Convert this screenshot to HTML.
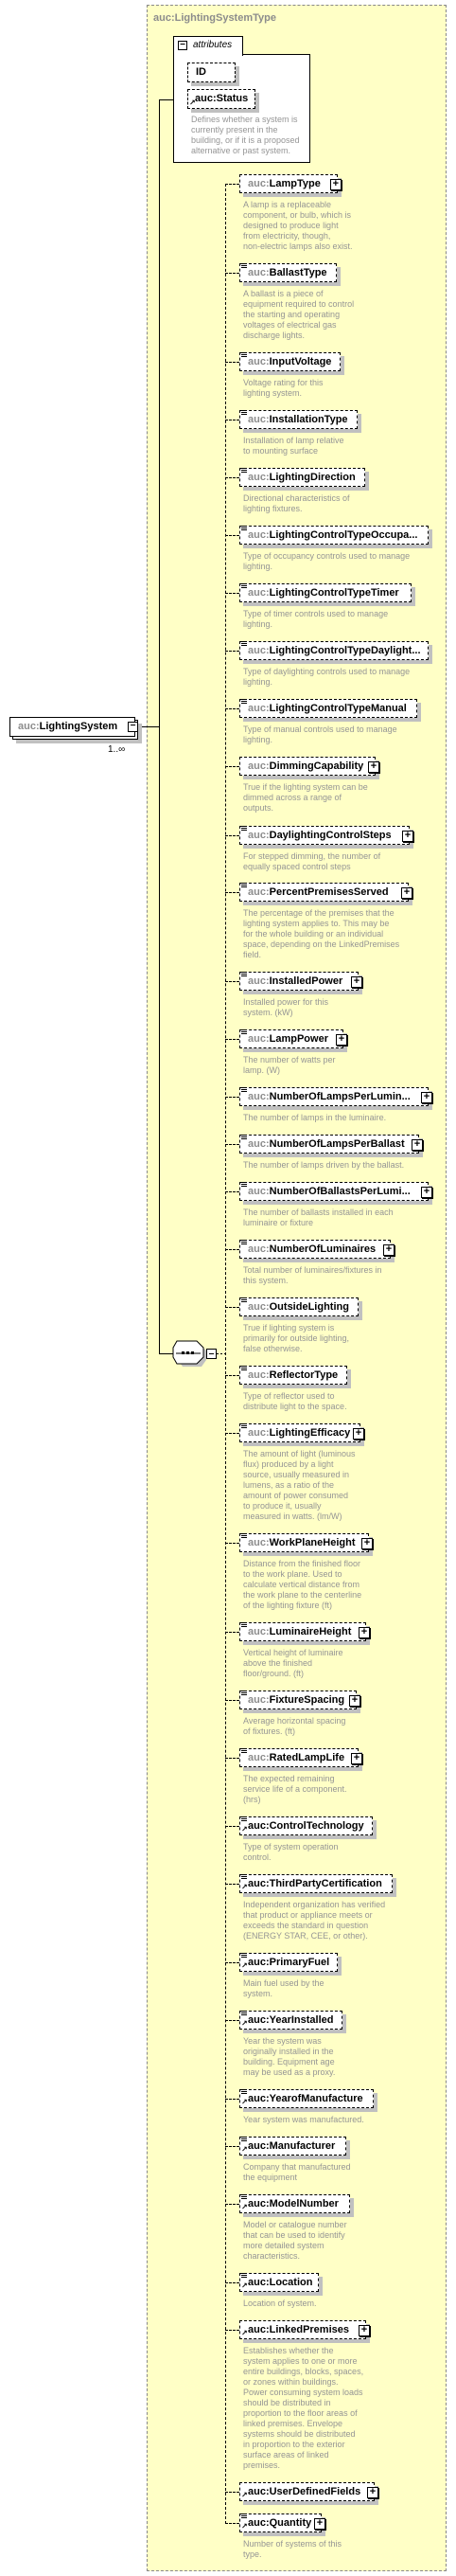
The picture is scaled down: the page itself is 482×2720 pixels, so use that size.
<!DOCTYPE html>
<html><head><meta charset="utf-8">
<style>
*{margin:0;padding:0;box-sizing:border-box}
body{width:482px;height:2720px;background:#fff;position:relative;overflow:hidden;font-family:"Liberation Sans",sans-serif}
.a{position:absolute}
#ct{left:155px;top:5px;width:317px;height:2710px;border:1px dashed #888;border-width:1px;background:#ffffc6;border-style:dashed}
.title{left:162px;top:12px;font:bold 11px/14px "Liberation Sans",sans-serif;color:#8c8c8c}
.e{position:absolute;left:253px;height:20px;border:1px dashed #000;background:#fff;box-shadow:4px 4px 0 #c0c0c0;padding:0 9px 0 8px;font:bold 11px/18px "Liberation Sans",sans-serif;white-space:nowrap;color:#000;z-index:2}
.e b{color:#8c8c8c}
.e.pl{padding-right:17px}
.e.pl:after{content:"+";position:absolute;right:-5px;top:4px;width:10px;height:10px;border:1px solid #000;background:#fff;box-shadow:1px 1px 0 #000;font:bold 11px/8px "Liberation Sans",sans-serif;text-align:center;color:#000}
.e .s{position:absolute;left:1px;top:-1px;width:6px;height:5px;border-top:1px solid #000;border-bottom:1px solid #000}
.e .s:after{content:"";position:absolute;left:0;top:1px;width:6px;height:1px;background:#000}
.e .r{position:absolute;left:1px;bottom:1px;font:bold 8px/8px "DejaVu Sans",sans-serif;color:#000}
.d{position:absolute;left:257px;font:9px/11px "Liberation Sans",sans-serif;color:#959595;white-space:nowrap}
.h{position:absolute;left:238px;width:15px;height:0;border-top:1px dashed #000}
</style></head><body>
<div class="a" id="ct"></div>
<div class="a title">auc:LightingSystemType</div>

<!-- attributes -->
<div class="a" style="left:183px;top:57px;width:145px;height:115px;border:1px solid #000;background:#fff"></div>
<div class="a" style="left:183px;top:38px;width:74px;height:21px;border:1px solid #000;border-bottom:none;background:#fff;font:italic 10px/18px 'Liberation Sans',sans-serif;padding-left:20px">attributes</div>
<div class="a" style="left:188px;top:43px;width:10px;height:10px;border:1px solid #000;background:#fff;font:bold 10px/7px 'Liberation Sans';text-align:center">−</div>
<div class="a" style="left:198px;top:66px;width:51px;height:21px;border:1px dashed #000;background:#fff;box-shadow:4px 4px 0 #c0c0c0;font:bold 11px/19px 'Liberation Sans';padding-left:8px">ID</div>
<div class="a" style="left:198px;top:94px;width:72px;height:21px;border:1px dashed #000;background:#fff;box-shadow:4px 4px 0 #c0c0c0;font:bold 11px/19px 'Liberation Sans';padding-left:7px">auc:Status<span style="position:absolute;left:1px;bottom:1px;font:bold 8px/8px 'DejaVu Sans'">↗</span></div>
<div class="d" style="left:202px;top:121px">Defines whether a system is<br>currently present in the<br>building, or if it is a proposed<br>alternative or past system.</div>

<!-- main lines -->
<div class="a" style="left:168px;top:105px;width:1px;height:1325px;background:#000"></div>
<div class="a" style="left:168px;top:105px;width:15px;height:1px;background:#000"></div>
<div class="a" style="left:168px;top:1429px;width:15px;height:1px;background:#000"></div>
<div class="a" style="left:238px;top:194px;width:0;height:2471px;border-left:1px dashed #000"></div>
<div class="a" style="left:146px;top:767px;width:22px;height:1px;background:#000"></div>

<!-- root element -->
<div class="a" style="left:13px;top:760px;width:133px;height:21px;border:1px solid #000;background:#fff;box-shadow:4px 4px 0 #c0c0c0"></div>
<div class="a" style="left:10px;top:757px;width:133px;height:21px;border:1px solid #000;background:#fff;font:bold 11px/19px 'Liberation Sans';padding-left:8px;white-space:nowrap"><b style="color:#8c8c8c">auc:</b>LightingSystem</div>
<div class="a" style="left:135px;top:762px;width:11px;height:11px;border:1px solid #000;background:#fff;font:bold 10px/8px 'Liberation Sans';text-align:center">−</div>
<div class="a" style="left:114px;top:786px;font:10px/11px 'Liberation Sans','DejaVu Sans';color:#000">1..∞</div>

<!-- sequence -->
<svg class="a" style="left:180px;top:1415px" width="60" height="32">
<polygon points="10,4 30,4 38,11 38,21 33,28 13,28 8,21 8,11" fill="#c0c0c0"/>
<polygon points="7,1 28,1 35,8 35,18 28,25 7,25 3,18 3,8" fill="#fff" stroke="#000"/>
<line x1="6" y1="14" x2="32" y2="14" stroke="#000"/>
<rect x="12" y="12" width="3" height="3" fill="#000"/><rect x="17" y="12" width="3" height="3" fill="#000"/><rect x="22" y="12" width="3" height="3" fill="#000"/>
<rect x="38.5" y="9.5" width="10" height="10" fill="#fff" stroke="#000"/>
<line x1="41" y1="14.5" x2="46" y2="14.5" stroke="#000"/>
<line x1="49" y1="14.5" x2="58" y2="14.5" stroke="#000" stroke-dasharray="2,2"/>
</svg>

<!-- elements -->
<div class="h" style="top:194px"></div><div class="e pl" style="top:184px"><b>auc:</b>LampType</div>
<div class="d" style="top:211px">A lamp is a replaceable<br>component, or bulb, which is<br>designed to produce light<br>from electricity, though,<br>non-electric lamps also exist.</div>

<div class="h" style="top:288px"></div><div class="e" style="top:278px"><i class="s"></i><b>auc:</b>BallastType</div>
<div class="d" style="top:305px">A ballast is a piece of<br>equipment required to control<br>the starting and operating<br>voltages of electrical gas<br>discharge lights.</div>

<div class="h" style="top:382px"></div><div class="e" style="top:372px"><i class="s"></i><b>auc:</b>InputVoltage</div>
<div class="d" style="top:399px">Voltage rating for this<br>lighting system.</div>

<div class="h" style="top:443px"></div><div class="e" style="top:433px"><i class="s"></i><b>auc:</b>InstallationType</div>
<div class="d" style="top:460px">Installation of lamp relative<br>to mounting surface</div>

<div class="h" style="top:504px"></div><div class="e" style="top:494px"><i class="s"></i><b>auc:</b>LightingDirection</div>
<div class="d" style="top:521px">Directional characteristics of<br>lighting fixtures.</div>

<div class="h" style="top:565px"></div><div class="e" style="top:555px;width:200px"><i class="s"></i><b>auc:</b>LightingControlTypeOccupa...</div>
<div class="d" style="top:582px">Type of occupancy controls used to manage<br>lighting.</div>

<div class="h" style="top:626px"></div><div class="e" style="top:616px;width:182px"><i class="s"></i><b>auc:</b>LightingControlTypeTimer</div>
<div class="d" style="top:643px">Type of timer controls used to manage<br>lighting.</div>

<div class="h" style="top:687px"></div><div class="e" style="top:677px;width:200px"><i class="s"></i><b>auc:</b>LightingControlTypeDaylight...</div>
<div class="d" style="top:704px">Type of daylighting controls used to manage<br>lighting.</div>

<div class="h" style="top:748px"></div><div class="e" style="top:738px;width:188px"><i class="s"></i><b>auc:</b>LightingControlTypeManual</div>
<div class="d" style="top:765px">Type of manual controls used to manage<br>lighting.</div>

<div class="h" style="top:809px"></div><div class="e pl" style="top:799px;width:144px"><b>auc:</b>DimmingCapability</div>
<div class="d" style="top:826px">True if the lighting system can be<br>dimmed across a range of<br>outputs.</div>

<div class="h" style="top:882px"></div><div class="e pl" style="top:872px;width:180px"><i class="s"></i><b>auc:</b>DaylightingControlSteps</div>
<div class="d" style="top:899px">For stepped dimming, the number of<br>equally spaced control steps</div>

<div class="h" style="top:942px"></div><div class="e pl" style="top:932px;width:179px"><i class="s"></i><b>auc:</b>PercentPremisesServed</div>
<div class="d" style="top:959px">The percentage of the premises that the<br>lighting system applies to. This may be<br>for the whole building or an individual<br>space, depending on the LinkedPremises<br>field.</div>

<div class="h" style="top:1036px"></div><div class="e pl" style="top:1026px;width:126px"><i class="s"></i><b>auc:</b>InstalledPower</div>
<div class="d" style="top:1053px">Installed power for this<br>system. (kW)</div>

<div class="h" style="top:1097px"></div><div class="e pl" style="top:1087px;width:110px"><i class="s"></i><b>auc:</b>LampPower</div>
<div class="d" style="top:1114px">The number of watts per<br>lamp. (W)</div>

<div class="h" style="top:1158px"></div><div class="e pl" style="top:1148px;width:200px"><i class="s"></i><b>auc:</b>NumberOfLampsPerLumin...</div>
<div class="d" style="top:1175px">The number of lamps in the luminaire.</div>

<div class="h" style="top:1208px"></div><div class="e pl" style="top:1198px;width:190px"><i class="s"></i><b>auc:</b>NumberOfLampsPerBallast</div>
<div class="d" style="top:1225px">The number of lamps driven by the ballast.</div>

<div class="h" style="top:1258px"></div><div class="e pl" style="top:1248px;width:200px"><i class="s"></i><b>auc:</b>NumberOfBallastsPerLumi...</div>
<div class="d" style="top:1275px">The number of ballasts installed in each<br>luminaire or fixture</div>

<div class="h" style="top:1319px"></div><div class="e pl" style="top:1309px;width:160px"><i class="s"></i><b>auc:</b>NumberOfLuminaires</div>
<div class="d" style="top:1336px">Total number of luminaires/fixtures in<br>this system.</div>

<div class="h" style="top:1380px"></div><div class="e" style="top:1370px;width:126px"><i class="s"></i><b>auc:</b>OutsideLighting</div>
<div class="d" style="top:1397px">True if lighting system is<br>primarily for outside lighting,<br>false otherwise.</div>

<div class="h" style="top:1452px"></div><div class="e" style="top:1442px;width:114px"><i class="s"></i><b>auc:</b>ReflectorType</div>
<div class="d" style="top:1469px">Type of reflector used to<br>distribute light to the space.</div>

<div class="h" style="top:1513px"></div><div class="e pl" style="top:1503px;width:128px"><i class="s"></i><b>auc:</b>LightingEfficacy</div>
<div class="d" style="top:1530px">The amount of light (luminous<br>flux) produced by a light<br>source, usually measured in<br>lumens, as a ratio of the<br>amount of power consumed<br>to produce it, usually<br>measured in watts. (lm/W)</div>

<div class="h" style="top:1629px"></div><div class="e pl" style="top:1619px;width:137px"><i class="s"></i><b>auc:</b>WorkPlaneHeight</div>
<div class="d" style="top:1646px">Distance from the finished floor<br>to the work plane. Used to<br>calculate vertical distance from<br>the work plane to the centerline<br>of the lighting fixture (ft)</div>

<div class="h" style="top:1723px"></div><div class="e pl" style="top:1713px;width:134px"><i class="s"></i><b>auc:</b>LuminaireHeight</div>
<div class="d" style="top:1740px">Vertical height of luminaire<br>above the finished<br>floor/ground. (ft)</div>

<div class="h" style="top:1795px"></div><div class="e pl" style="top:1785px;width:124px"><i class="s"></i><b>auc:</b>FixtureSpacing</div>
<div class="d" style="top:1812px">Average horizontal spacing<br>of fixtures. (ft)</div>

<div class="h" style="top:1856px"></div><div class="e pl" style="top:1846px;width:126px"><i class="s"></i><b>auc:</b>RatedLampLife</div>
<div class="d" style="top:1873px">The expected remaining<br>service life of a component.<br>(hrs)</div>

<div class="h" style="top:1928px"></div><div class="e" style="top:1918px;width:141px"><i class="s"></i><i class="r">↗</i>auc:ControlTechnology</div>
<div class="d" style="top:1945px">Type of system operation<br>control.</div>

<div class="h" style="top:1989px"></div><div class="e" style="top:1979px;width:162px"><i class="s"></i><i class="r">↗</i>auc:ThirdPartyCertification</div>
<div class="d" style="top:2006px">Independent organization has verified<br>that product or appliance meets or<br>exceeds the standard in question<br>(ENERGY STAR, CEE, or other).</div>

<div class="h" style="top:2072px"></div><div class="e" style="top:2062px;width:104px"><i class="s"></i><i class="r">↗</i>auc:PrimaryFuel</div>
<div class="d" style="top:2089px">Main fuel used by the<br>system.</div>

<div class="h" style="top:2133px"></div><div class="e" style="top:2123px;width:109px"><i class="s"></i><i class="r">↗</i>auc:YearInstalled</div>
<div class="d" style="top:2150px">Year the system was<br>originally installed in the<br>building. Equipment age<br>may be used as a proxy.</div>

<div class="h" style="top:2216px"></div><div class="e" style="top:2206px;width:142px"><i class="s"></i><i class="r">↗</i>auc:YearofManufacture</div>
<div class="d" style="top:2233px">Year system was manufactured.</div>

<div class="h" style="top:2266px"></div><div class="e" style="top:2256px;width:113px"><i class="s"></i><i class="r">↗</i>auc:Manufacturer</div>
<div class="d" style="top:2283px">Company that manufactured<br>the equipment</div>

<div class="h" style="top:2327px"></div><div class="e" style="top:2317px;width:117px"><i class="s"></i><i class="r">↗</i>auc:ModelNumber</div>
<div class="d" style="top:2344px">Model or catalogue number<br>that can be used to identify<br>more detailed system<br>characteristics.</div>

<div class="h" style="top:2410px"></div><div class="e" style="top:2400px;width:84px"><i class="s"></i><i class="r">↗</i>auc:Location</div>
<div class="d" style="top:2427px">Location of system.</div>

<div class="h" style="top:2460px"></div><div class="e pl" style="top:2450px;width:134px"><i class="r">↗</i>auc:LinkedPremises</div>
<div class="d" style="top:2477px">Establishes whether the<br>system applies to one or more<br>entire buildings, blocks, spaces,<br>or zones within buildings.<br>Power consuming system loads<br>should be distributed in<br>proportion to the floor areas of<br>linked premises. Envelope<br>systems should be distributed<br>in proportion to the exterior<br>surface areas of linked<br>premises.</div>

<div class="h" style="top:2631px"></div><div class="e pl" style="top:2621px;width:143px"><i class="r">↗</i>auc:UserDefinedFields</div>

<div class="h" style="top:2664px"></div><div class="e pl" style="top:2654px;width:87px"><i class="s"></i><i class="r">↗</i>auc:Quantity</div>
<div class="d" style="top:2681px">Number of systems of this<br>type.</div>

</body></html>
